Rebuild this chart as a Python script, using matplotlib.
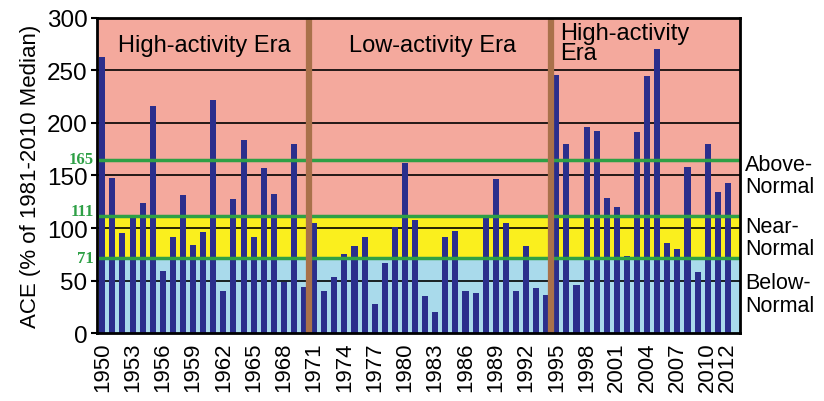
import matplotlib
matplotlib.use("Agg")
import matplotlib.pyplot as plt
import numpy as np

plt.rcParams['font.family'] = ['Liberation Sans', 'DejaVu Sans']

years = list(range(1950, 2013))
ace = [263, 148, 95, 111, 124, 216, 59, 91, 131, 84,
       96, 222, 40, 128, 184, 91, 157, 132, 49, 180,
       44, 105, 40, 53, 75, 83, 91, 28, 67, 101,
       162, 108, 35, 20, 91, 97, 40, 38, 110, 147,
       105, 40, 83, 43, 36, 246, 180, 46, 196, 192,
       129, 120, 73, 191, 245, 270, 86, 80, 158, 58,
       180, 134, 143]

tick_years = list(range(1950, 2011, 3)) + [2012]
thresholds = [165, 111, 71]
era_breaks = [1970.5, 1994.5]
side_labels = ["Above-\nNormal", "Near-\nNormal", "Below-\nNormal"]

fig = plt.figure(figsize=(8.24, 4.02), dpi=100)
ax = fig.add_axes([0.118, 0.169, 0.780, 0.784])

# coloured bands
ax.axhspan(111, 300, color='#F4A99D', zorder=0)
ax.axhspan(71, 111, color='#FAEF1E', zorder=0)
ax.axhspan(0, 71, color='#A9DAEB', zorder=0)

# black grid
for g in range(50, 300, 50):
    ax.axhline(g, color='black', lw=1.2, zorder=1)

ax.bar(years, ace, width=0.6, color='#2B2E8C', zorder=2)

# thresholds (label for 111 nudged up a bit, as in the original)
label_shift = {165: 1, 111: 5, 71: 0}
for t in thresholds:
    ax.axhline(t, color='#2EA046', lw=2.5, zorder=3)
    ax.text(1949.2, t + label_shift[t], str(t), ha='right', va='center',
            color='#2EA046', fontsize=12, fontweight='bold',
            family='Liberation Serif', clip_on=False)

for b in era_breaks:
    ax.axvline(b, color='#A9714A', lw=4.5, zorder=4)

ax.text(1960.1, 274, "High-activity Era", ha='center', va='center', fontsize=17, zorder=5)
ax.text(1982.7, 274, "Low-activity Era", ha='center', va='center', fontsize=17, zorder=5)
ax.text(1995.4, 296, "High-activity\nEra", ha='left', va='top', fontsize=17,
        linespacing=0.9, zorder=5)

side_y = [150, 91, 37]
for lab, yy in zip(side_labels, side_y):
    ax.text(2013.7, yy, lab, ha='left', va='center', fontsize=15.5,
            linespacing=1.1, clip_on=False)

ax.set_xlim(1949.5, 2013.2)
ax.set_ylim(0, 300)
ax.set_yticks(range(0, 301, 50))
ax.set_xticks(tick_years)
ax.set_xticklabels([str(y) for y in tick_years], rotation=90, fontsize=16)
ax.tick_params(axis='y', labelsize=17.5, length=4, width=1.5, pad=3)
ax.tick_params(axis='x', length=0, pad=6)
ax.set_ylabel("ACE (% of 1981-2010 Median)", fontsize=16, labelpad=4)
for s in ax.spines.values():
    s.set_linewidth(2)
    s.set_zorder(6)

fig.savefig("out.png", dpi=100)
